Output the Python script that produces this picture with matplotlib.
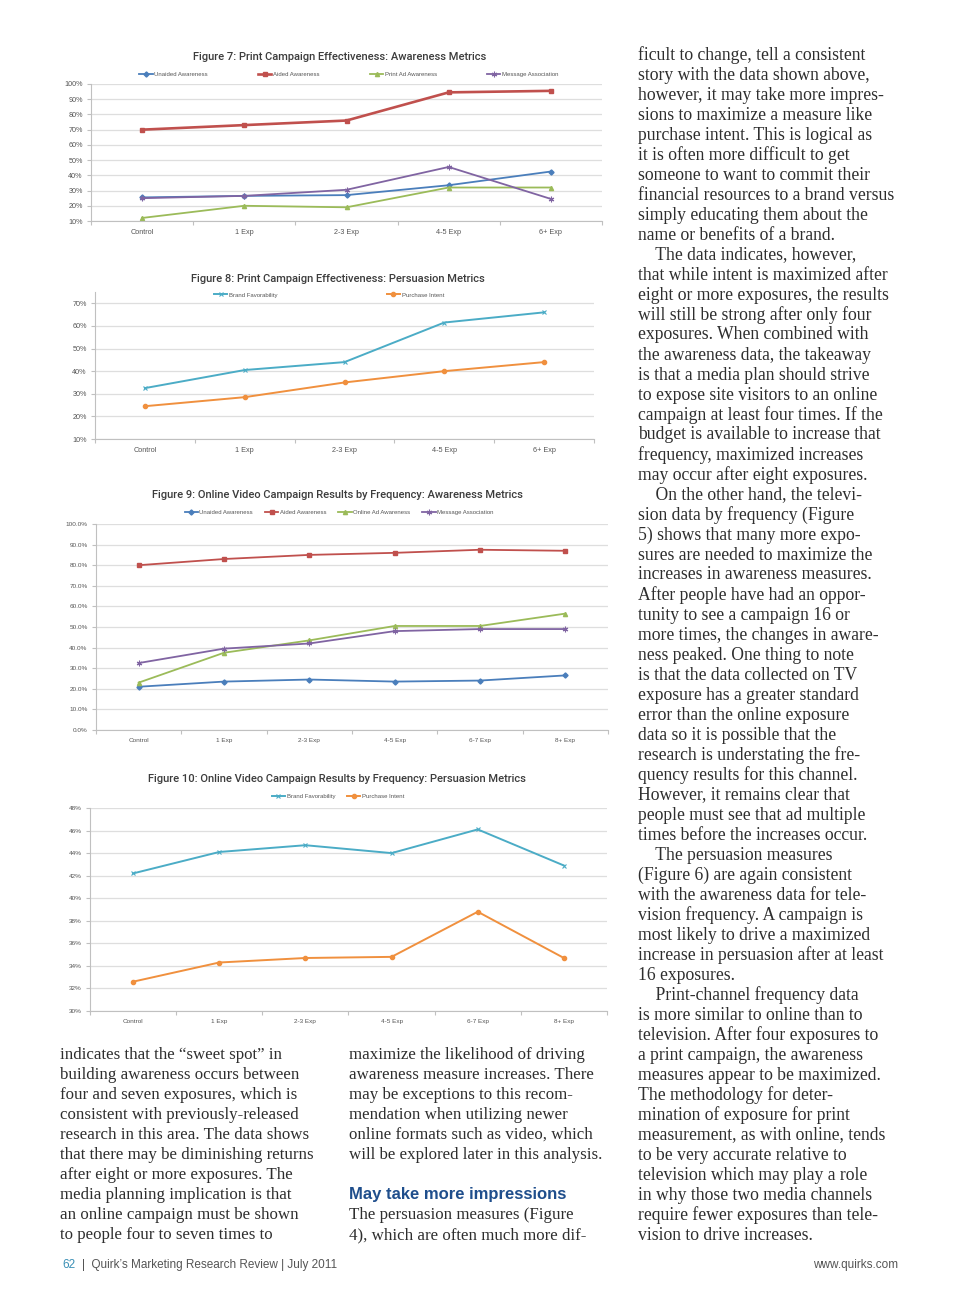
import matplotlib
matplotlib.use('Agg')
import matplotlib.pyplot as plt

W, H = 960, 1305

cats5 = ['Control', '1 Exp', '2-3 Exp', '4-5 Exp', '6+ Exp']
cats6 = ['Control', '1 Exp', '2-3 Exp', '4-5 Exp', '6-7 Exp', '8+ Exp']

# Figure 7: print awareness (%)
f7_unaided = [25.5, 26.5, 27, 33.5, 42.5]
f7_aided = [70, 73, 76, 94.5, 95.5]
f7_print_ad = [12, 20, 19, 32, 32]
f7_message = [25, 26.5, 30.5, 45.5, 24.5]

# Figure 8: print persuasion (%)
f8_brand = [32.5, 40.5, 44, 61.5, 66]
f8_intent = [24.5, 28.5, 35, 40, 44]

# Figure 9: online video awareness (%)
f9_unaided = [21, 23.5, 24.5, 23.5, 24, 26.5]
f9_aided = [80, 83, 85, 86, 87.5, 87]
f9_online_ad = [23, 37.5, 43.5, 50.5, 50.5, 56.5]
f9_message = [32.5, 39.5, 42, 48, 49, 49]

# Figure 10: online video persuasion (%)
f10_brand = [42.2, 44.1, 44.7, 44.0, 46.1, 42.9]
f10_intent = [32.6, 34.3, 34.7, 34.8, 38.8, 34.7]

titles = [
    'Figure 7: Print Campaign Effectiveness: Awareness Metrics',
    'Figure 8: Print Campaign Effectiveness: Persuasion Metrics',
    'Figure 9: Online Video Campaign Results by Frequency: Awareness Metrics',
    'Figure 10: Online Video Campaign Results by Frequency: Persuasion Metrics',
]

right_col = [
    "ficult to change, tell a consistent",
    "story with the data shown above,",
    "however, it may take more impres-",
    "sions to maximize a measure like",
    "purchase intent. This is logical as",
    "it is often more difficult to get",
    "someone to want to commit their",
    "financial resources to a brand versus",
    "simply educating them about the",
    "name or benefits of a brand.",
    "    The data indicates, however,",
    "that while intent is maximized after",
    "eight or more exposures, the results",
    "will still be strong after only four",
    "exposures. When combined with",
    "the awareness data, the takeaway",
    "is that a media plan should strive",
    "to expose site visitors to an online",
    "campaign at least four times. If the",
    "budget is available to increase that",
    "frequency, maximized increases",
    "may occur after eight exposures.",
    "    On the other hand, the televi-",
    "sion data by frequency (Figure",
    "5) shows that many more expo-",
    "sures are needed to maximize the",
    "increases in awareness measures.",
    "After people have had an oppor-",
    "tunity to see a campaign 16 or",
    "more times, the changes in aware-",
    "ness peaked. One thing to note",
    "is that the data collected on TV",
    "exposure has a greater standard",
    "error than the online exposure",
    "data so it is possible that the",
    "research is understating the fre-",
    "quency results for this channel.",
    "However, it remains clear that",
    "people must see that ad multiple",
    "times before the increases occur.",
    "    The persuasion measures",
    "(Figure 6) are again consistent",
    "with the awareness data for tele-",
    "vision frequency. A campaign is",
    "most likely to drive a maximized",
    "increase in persuasion after at least",
    "16 exposures.",
    "    Print-channel frequency data",
    "is more similar to online than to",
    "television. After four exposures to",
    "a print campaign, the awareness",
    "measures appear to be maximized.",
    "The methodology for deter-",
    "mination of exposure for print",
    "measurement, as with online, tends",
    "to be very accurate relative to",
    "television which may play a role",
    "in why those two media channels",
    "require fewer exposures than tele-",
    "vision to drive increases.",
]

left_col = [
    "indicates that the \u201csweet spot\u201d in",
    "building awareness occurs between",
    "four and seven exposures, which is",
    "consistent with previously-released",
    "research in this area. The data shows",
    "that there may be diminishing returns",
    "after eight or more exposures. The",
    "media planning implication is that",
    "an online campaign must be shown",
    "to people four to seven times to",
]

mid_col = [
    "maximize the likelihood of driving",
    "awareness measure increases. There",
    "may be exceptions to this recom-",
    "mendation when utilizing newer",
    "online formats such as video, which",
    "will be explored later in this analysis.",
]
mid_col_after = [
    "The persuasion measures (Figure",
    "4), which are often much more dif-",
]
heading = "May take more impressions"

C_BLUE = '#4a7ebb'
C_RED = '#c0504d'
C_GREEN = '#9bbb59'
C_PURPLE = '#8064a2'
C_TEAL = '#4bacc6'
C_ORANGE = '#f0903e'
TXT = '#555555'
SANS = 'Liberation Sans'
SERIF = 'Liberation Serif'

fig = plt.figure(figsize=(W / 100, H / 100), dpi=100)
fig.patch.set_facecolor('white')


def px_axes(left, top, right, bottom):
    return fig.add_axes([left / W, 1 - bottom / H, (right - left) / W, (bottom - top) / H])


def ptext(x, y, s, **kw):
    fig.text(x / W, 1 - y / H, s, **kw)


def style_axes(ax, cats, ylim, yticks, fmt, fs):
    ax.set_xlim(-0.5, len(cats) - 0.5)
    ax.set_ylim(*ylim)
    ax.set_yticks(yticks)
    ax.set_yticklabels([fmt.format(v) for v in yticks], fontsize=fs, color=TXT, family=SANS)
    ax.set_xticks(range(len(cats)))
    ax.set_xticklabels(cats, fontsize=fs, color=TXT, family=SANS)
    ax.set_xticks([i + 0.5 for i in range(-1, len(cats))], minor=True)
    ax.tick_params(axis='x', which='major', length=0, pad=6)
    ax.tick_params(axis='x', which='minor', length=3, color='#c0c0c0', width=0.8)
    ax.tick_params(axis='y', length=3, color='#c0c0c0', width=0.8, pad=3)
    ax.grid(axis='y', color='#dedede', lw=0.9)
    ax.set_axisbelow(True)
    for s in ['top', 'right']:
        ax.spines[s].set_visible(False)
    for s in ['left', 'bottom']:
        ax.spines[s].set_color('#c0c0c0')
        ax.spines[s].set_linewidth(0.8)


def legend(ax, bbox, ncol, expand, fs=4.3):
    kw = dict(loc='center', ncol=ncol, frameon=False, handlelength=2.2,
              handletextpad=0.3, columnspacing=2.0, numpoints=1, borderaxespad=0,
              prop={'family': SANS, 'size': fs})
    if expand:
        kw['mode'] = 'expand'
    lg = ax.legend(bbox_to_anchor=bbox, **kw)
    for t in lg.get_texts():
        t.set_color(TXT)


def chart_title(x, y, s):
    ptext(x, y, s, ha='center', va='center', fontsize=8.0, color='#3c3c3c',
          family=['Roboto', SANS], fontweight='medium')


star = (6, 2, 0)

# ---------- Figure 7 ----------
ax = px_axes(91, 84, 602, 221)
x = range(len(cats5))
ax.plot(x, f7_unaided, color=C_BLUE, lw=1.3, marker='D', ms=2.6, label='Unaided Awareness')
ax.plot(x, f7_aided, color=C_RED, lw=1.9, marker='s', ms=3.5, label='Aided Awareness')
ax.plot(x, f7_print_ad, color=C_GREEN, lw=1.3, marker='^', ms=3, label='Print Ad Awareness')
ax.plot(x, f7_message, color=C_PURPLE, lw=1.3, marker=star, ms=4, mew=0.8, label='Message Association')
style_axes(ax, cats5, (10, 100), range(10, 101, 10), '{}%', 5.2)
legend(ax, (0.09, 1.04, 0.83, 0.06), 4, True)
chart_title(340, 57, titles[0])

# ---------- Figure 8 ----------
ax = px_axes(95, 292, 594, 439)
ax.plot(x, f8_brand, color=C_TEAL, lw=1.4, marker='x', ms=3, mew=0.8, label='Brand Favorability')
ax.plot(x, f8_intent, color=C_ORANGE, lw=1.4, marker='o', ms=3, label='Purchase Intent')
style_axes(ax, cats5, (10, 75), range(10, 71, 10), '{}%', 5.2)
legend(ax, (0.234, 0.95, 0.47, 0.06), 2, True)
chart_title(338, 279, titles[1])

# ---------- Figure 9 ----------
ax = px_axes(96, 524, 608, 730)
x6 = range(len(cats6))
ax.plot(x6, f9_unaided, color=C_BLUE, lw=1.3, marker='D', ms=2.6, label='Unaided Awareness')
ax.plot(x6, f9_aided, color=C_RED, lw=1.3, marker='s', ms=2.8, label='Aided Awareness')
ax.plot(x6, f9_online_ad, color=C_GREEN, lw=1.3, marker='^', ms=3, label='Online Ad Awareness')
ax.plot(x6, f9_message, color=C_PURPLE, lw=1.3, marker=star, ms=4, mew=0.8, label='Message Association')
style_axes(ax, cats6, (0, 100), range(0, 101, 10), '{:.1f}%', 4.6)
legend(ax, (0.475, 1.058), 4, False)
chart_title(337, 495, titles[2])

# ---------- Figure 10 ----------
ax = px_axes(90, 808, 607, 1011)
ax.plot(x6, f10_brand, color=C_TEAL, lw=1.4, marker='x', ms=3, mew=0.8, label='Brand Favorability')
ax.plot(x6, f10_intent, color=C_ORANGE, lw=1.4, marker='o', ms=3, label='Purchase Intent')
style_axes(ax, cats6, (30, 48), range(30, 49, 2), '{}%', 4.6)
legend(ax, (0.48, 1.059), 2, False)
chart_title(337, 779, titles[3])

# ---------- body text ----------
body = dict(fontsize=12.2, color='#2e2e2e', family=SERIF, va='center', ha='left')
body_r = dict(body, fontsize=12.7)
for i, line in enumerate(right_col):
    ptext(638, 55 + 20 * i, line, **body_r)
for i, line in enumerate(left_col):
    ptext(60, 1055 + 20 * i, line, **body)
for i, line in enumerate(mid_col):
    ptext(349, 1055 + 20 * i, line, **body)
ptext(349, 1195, heading, fontsize=12, fontweight='bold', color='#1f4e8c',
      family=SANS, va='center', ha='left')
for i, line in enumerate(mid_col_after):
    ptext(349, 1215 + 20 * i, line, **body)

# ---------- footer ----------
ptext(62, 1265, '62', fontsize=8.5, color='#3a8fb5', family=SANS, va='center')
ptext(82, 1265, '|  Quirk\u2019s Marketing Research Review | July 2011', fontsize=8.5,
      color='#555555', family=SANS, va='center')
ptext(898, 1265, 'www.quirks.com', fontsize=8.5, color='#555555', family=SANS,
      va='center', ha='right')

fig.savefig('out.png', dpi=100, facecolor='white')
